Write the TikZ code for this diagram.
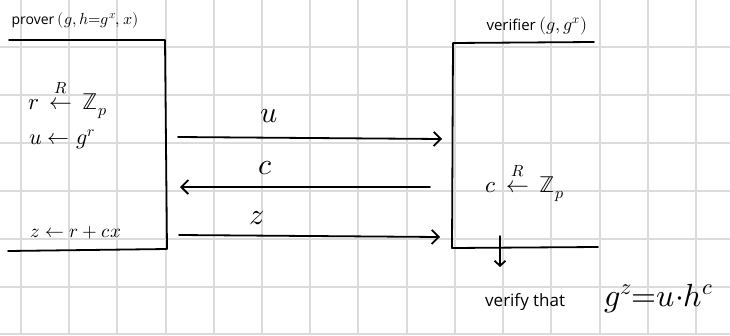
\documentclass[tikz,border=0pt]{standalone}
\usepackage{amsmath}
\usepackage{fontspec}
\usepackage{unicode-math}
\setmathfont{Latin Modern Math}
\setsansfont{Open Sans}
\usetikzlibrary{arrows.meta}
\begin{document}
\begin{tikzpicture}[x=1pt,y=-1pt,
  grid/.style={draw=black!14,line width=1.3pt},
  ink/.style={draw=black,line width=1.8pt,line cap=round,line join=round},
  msg/.style={ink,-{Straight Barb[length=7pt,width=14pt,line width=1.8pt]}},
  txt/.style={inner sep=0pt,font=\fontsize{14}{14}\selectfont},
  math/.style={inner sep=0pt,font=\fontsize{22}{22}\selectfont},
  lab/.style={inner sep=0pt,font=\fontsize{30}{30}\selectfont}]
\useasboundingbox (0,0) rectangle (730,335);
\fill[white] (0,0) rectangle (730,335);
% grid
\foreach \x in {21,69,117,166,214,262,310,358,407,455,503,551,600,648,696}
  \draw[grid] (\x,0) -- (\x,335);
\foreach \y in {47,95,143,191,239,287,334}
  \draw[grid] (0,\y) -- (730,\y);
% prover box
\coordinate (ptl) at (9,40);
\coordinate (ptr) at (165,40);
\coordinate (pbr) at (167,249);
\coordinate (pbl) at (8,251);
\draw[ink] (ptl) -- (ptr) -- (pbr) -- (pbl);
% verifier box
\coordinate (vtr) at (594,42);
\coordinate (vtl) at (453,43);
\coordinate (vbl) at (452,248);
\coordinate (vbr) at (598,247);
\draw[ink] (vtr) -- (vtl) -- (vbl) -- (vbr);
% headings
\node[txt] (prover) at (75,20) {\sffamily prover \fontsize{16}{16}\selectfont$(g,h{=}g^{x},x)$};
\node[txt] (verifier) at (537,26) {\fontsize{15}{15}\selectfont\sffamily verifier \fontsize{18}{18}\selectfont$(g,g^{x})$};
% prover computations
\node[math] (pr) at (68,99) {\fontsize{23}{23}\selectfont$r\,\overset{R}{\leftarrow}\,\mathbb{Z}_p$};
\node[math] (pu) at (62,139) {$u \leftarrow g^{r}$};
\node[math] (pz) at (76,233) {\fontsize{19}{19}\selectfont$z \leftarrow r + cx$};
% verifier computation
\node[math] (vc) at (525,182) {\fontsize{23}{23}\selectfont$c\,\overset{R}{\leftarrow}\,\mathbb{Z}_p$};
% messages
\coordinate (u1) at (178,137);
\coordinate (u2) at (442,139);
\coordinate (c1) at (430,187);
\coordinate (c2) at (180,187);
\coordinate (z1) at (179,235);
\coordinate (z2) at (440,237);
\draw[msg] (u1) -- (u2);
\draw[msg] (c1) -- (c2);
\draw[msg] (z1) -- (z2);
\node[lab] (lu) at (269,116) {$u$};
\node[lab] (lc) at (265,168) {$c$};
\node[lab] (lz) at (257,218) {$z$};
% verify
\coordinate (d1) at (500,236);
\coordinate (d2) at (500,267);
\draw[ink,-{Straight Barb[length=5pt,width=11pt,line width=1.8pt]}] (d1) -- (d2);
\node[inner sep=0pt,anchor=base west] (vt) at (485,306)
  {\fontsize{17}{17}\selectfont\sffamily verify that};
\node[inner sep=0pt,anchor=base west,font=\fontsize{32}{32}\selectfont] (eq) at (604,306)
  {$g^{z}{=}u{\cdot}h^{c}$};
\end{tikzpicture}
\end{document}
